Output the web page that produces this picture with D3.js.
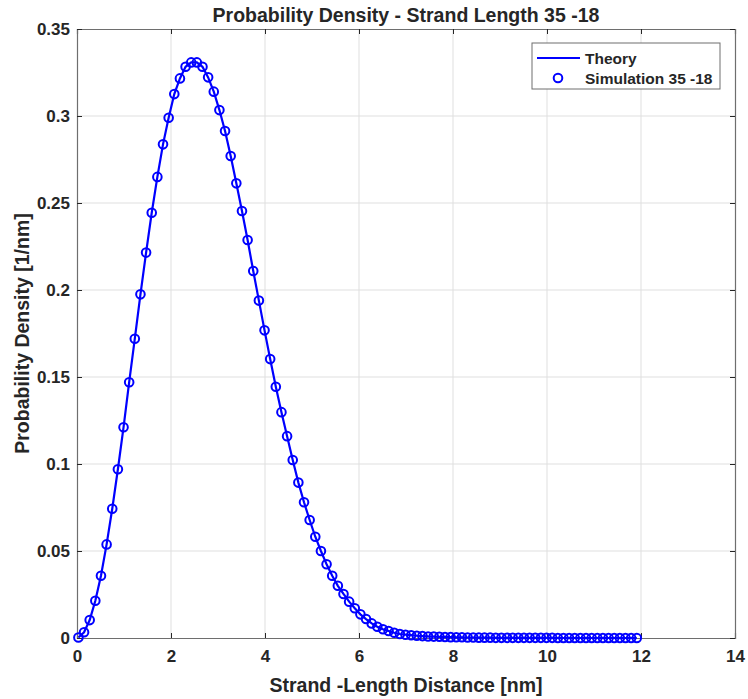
<!DOCTYPE html>
<html>
<head>
<meta charset="utf-8">
<script src="https://cdn.jsdelivr.net/npm/d3@7"></script>
<style>
  body { margin: 0; background: #fff; }
  svg text { font-family: "Liberation Sans", Arial, sans-serif; font-weight: bold; fill: #262626; }
</style>
</head>
<body>
<div id="chart"></div>
<script>
// distance samples [nm]
var distance = [
  0.03, 0.15, 0.27, 0.39, 0.51, 0.63, 0.75, 0.87, 0.99, 1.11,
  1.23, 1.35, 1.47, 1.59, 1.71, 1.83, 1.95, 2.07, 2.19, 2.31,
  2.43, 2.55, 2.67, 2.79, 2.91, 3.03, 3.15, 3.27, 3.39, 3.51,
  3.63, 3.75, 3.87, 3.99, 4.11, 4.23, 4.35, 4.47, 4.59, 4.71,
  4.83, 4.95, 5.07, 5.19, 5.31, 5.43, 5.55, 5.67, 5.79, 5.91,
  6.03, 6.15, 6.27, 6.39, 6.51, 6.63, 6.75, 6.87, 6.99, 7.11,
  7.23, 7.35, 7.47, 7.59, 7.71, 7.83, 7.95, 8.07, 8.19, 8.31,
  8.43, 8.55, 8.67, 8.79, 8.91, 9.03, 9.15, 9.27, 9.39, 9.51,
  9.63, 9.75, 9.87, 9.99, 10.11, 10.23, 10.35, 10.47, 10.59, 10.71,
  10.83, 10.95, 11.07, 11.19, 11.31, 11.43, 11.55, 11.67, 11.79, 11.91
];

// simulation markers
var simulation = [
  0.0003, 0.0033, 0.0103, 0.0214, 0.0358, 0.0538, 0.0743, 0.0970, 0.1211, 0.1470,
  0.1720, 0.1975, 0.2215, 0.2444, 0.2650, 0.2837, 0.2990, 0.3126, 0.3216, 0.3283,
  0.3308, 0.3308, 0.3283, 0.3222, 0.3140, 0.3034, 0.2914, 0.2770, 0.2613, 0.2454,
  0.2287, 0.2109, 0.1939, 0.1768, 0.1603, 0.1444, 0.1298, 0.1160, 0.1023, 0.0893,
  0.0780, 0.0678, 0.0582, 0.0500, 0.0424, 0.0358, 0.0300, 0.0253, 0.0209, 0.0171,
  0.0136, 0.0109, 0.0084, 0.0065, 0.0050, 0.0040, 0.0030, 0.0023, 0.0019, 0.0016,
  0.0013, 0.0011, 0.0009, 0.0008, 0.0007, 0.0006, 0.0005, 0.0004, 0.0004, 0.0003,
  0.0003, 0.0002, 0.0002, 0.0002, 0.0001, 0.0001, 0.0001, 0.0001, 0.0001, 0.0001,
  0.0001, 0.0001, 0.0001, 0.0001, 0.0001, 0, 0, 0, 0, 0,
  0, 0, 0, 0, 0, 0, 0, 0, 0, 0
];

// theory curve (passes through the markers)
var theory = [
  0.0003, 0.0033, 0.0103, 0.0214, 0.0358, 0.0538, 0.0743, 0.0970, 0.1211, 0.1470,
  0.1720, 0.1975, 0.2215, 0.2444, 0.2650, 0.2837, 0.2990, 0.3126, 0.3216, 0.3283,
  0.3308, 0.3308, 0.3283, 0.3222, 0.3140, 0.3034, 0.2914, 0.2770, 0.2613, 0.2454,
  0.2287, 0.2109, 0.1939, 0.1768, 0.1603, 0.1444, 0.1298, 0.1160, 0.1023, 0.0893,
  0.0780, 0.0678, 0.0582, 0.0500, 0.0424, 0.0358, 0.0300, 0.0253, 0.0209, 0.0171,
  0.0136, 0.0109, 0.0084, 0.0065, 0.0050, 0.0040, 0.0030, 0.0023, 0.0019, 0.0016,
  0.0013, 0.0011, 0.0009, 0.0008, 0.0007, 0.0006, 0.0005, 0.0004, 0.0004, 0.0003,
  0.0003, 0.0002, 0.0002, 0.0002, 0.0001, 0.0001, 0.0001, 0.0001, 0.0001, 0.0001,
  0.0001, 0.0001, 0.0001, 0.0001, 0.0001, 0, 0, 0, 0, 0,
  0, 0, 0, 0, 0, 0, 0, 0, 0, 0
];

var xTicks = [0, 2, 4, 6, 8, 10, 12, 14];
var yTicks = [0, 0.05, 0.1, 0.15, 0.2, 0.25, 0.3, 0.35];
var yTickLabels = ["0", "0.05", "0.1", "0.15", "0.2", "0.25", "0.3", "0.35"];
var legendLabels = ["Theory", "Simulation 35 -18"];

var W = 748, H = 699;
var margin = { top: 29, right: 13, bottom: 61, left: 77 };
var width = W - margin.left - margin.right;
var height = H - margin.top - margin.bottom;

var svg = d3.select("#chart").append("svg")
  .attr("width", W)
  .attr("height", H);

var g = svg.append("g")
  .attr("transform", "translate(" + margin.left + "," + margin.top + ")");

var x = d3.scaleLinear().domain([0, 14]).range([0, width]);
var y = d3.scaleLinear().domain([0, 0.35]).range([height, 0]);

// grid
g.append("g").selectAll("line.gx")
  .data(xTicks.slice(1, -1))
  .enter().append("line")
  .attr("x1", d => x(d)).attr("x2", d => x(d))
  .attr("y1", 0).attr("y2", height)
  .attr("stroke", "#dfdfdf").attr("stroke-width", 1);

g.append("g").selectAll("line.gy")
  .data(yTicks.slice(1, -1))
  .enter().append("line")
  .attr("y1", d => y(d)).attr("y2", d => y(d))
  .attr("x1", 0).attr("x2", width)
  .attr("stroke", "#dfdfdf").attr("stroke-width", 1);

// axes with inward ticks
var xAxis = d3.axisBottom(x).tickValues(xTicks).tickSize(-5).tickPadding(12)
  .tickFormat(d3.format("d"));
var xAxisTop = d3.axisTop(x).tickValues(xTicks).tickSize(-5).tickFormat("");
var yAxis = d3.axisLeft(y).tickValues(yTicks).tickSize(-5).tickPadding(7)
  .tickFormat((d, i) => yTickLabels[i]);
var yAxisRight = d3.axisRight(y).tickValues(yTicks).tickSize(-5).tickFormat("");

function styleAxis(sel) {
  sel.select(".domain").attr("stroke", "#6e6e6e").attr("stroke-width", 1.2);
  sel.selectAll(".tick line").attr("stroke", "#262626");
  sel.selectAll(".tick text").style("font-size", "17px").attr("fill", "#262626");
}

g.append("g").attr("transform", "translate(0," + height + ")").call(xAxis).call(styleAxis);
g.append("g").call(xAxisTop).call(styleAxis);
g.append("g").call(yAxis).call(styleAxis);
g.append("g").attr("transform", "translate(" + width + ",0)").call(yAxisRight).call(styleAxis);

// theory line
var line = d3.line()
  .x((d, i) => x(distance[i]))
  .y(d => y(d));

g.append("path")
  .datum(theory)
  .attr("fill", "none")
  .attr("stroke", "#0000ff")
  .attr("stroke-width", 2.2)
  .attr("d", line);

// simulation markers
g.append("g").selectAll("circle")
  .data(simulation)
  .enter().append("circle")
  .attr("cx", (d, i) => x(distance[i]))
  .attr("cy", d => y(d))
  .attr("r", 4.3)
  .attr("fill", "none")
  .attr("stroke", "#0000ff")
  .attr("stroke-width", 2);

// title and axis labels
svg.append("text")
  .attr("x", margin.left + width / 2)
  .attr("y", 22)
  .attr("text-anchor", "middle")
  .style("font-size", "19.5px")
  .text("Probability Density - Strand Length 35 -18");

svg.append("text")
  .attr("x", margin.left + width / 2)
  .attr("y", 692)
  .attr("text-anchor", "middle")
  .style("font-size", "19.5px")
  .text("Strand -Length Distance [nm]");

svg.append("text")
  .attr("transform", "translate(29," + (margin.top + height / 2) + ") rotate(-90)")
  .attr("text-anchor", "middle")
  .style("font-size", "19.5px")
  .text("Probability Density [1/nm]");

// legend
var lg = svg.append("g").attr("transform", "translate(532,43)");
lg.append("rect")
  .attr("width", 188).attr("height", 46)
  .attr("fill", "#fff").attr("stroke", "#6e6e6e").attr("stroke-width", 1);
lg.append("line")
  .attr("x1", 5).attr("x2", 48).attr("y1", 15).attr("y2", 15)
  .attr("stroke", "#0000ff").attr("stroke-width", 2.2);
lg.append("circle")
  .attr("cx", 26).attr("cy", 35).attr("r", 4.3)
  .attr("fill", "none").attr("stroke", "#0000ff").attr("stroke-width", 2);
lg.selectAll("text.lab")
  .data(legendLabels)
  .enter().append("text")
  .attr("x", 53)
  .attr("y", (d, i) => 21 + i * 20)
  .style("font-size", "15.5px")
  .text(d => d);
</script>
</body>
</html>
